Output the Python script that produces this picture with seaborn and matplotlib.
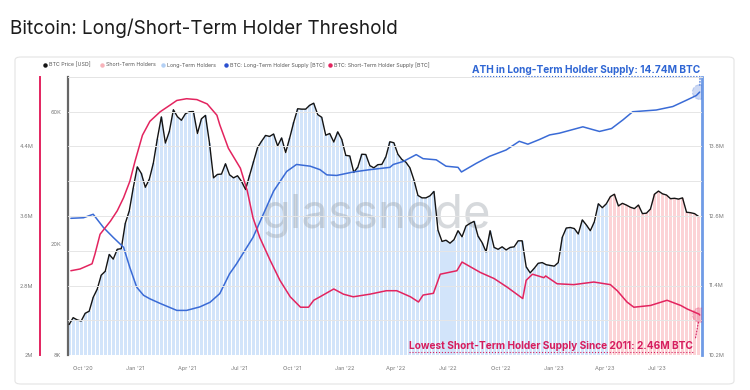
import matplotlib
matplotlib.use('Agg')
import matplotlib.pyplot as plt
from matplotlib.patches import FancyBboxPatch
from matplotlib.lines import Line2D
from matplotlib.text import Text
from matplotlib.ticker import FixedLocator, NullLocator
import pandas as pd
import seaborn as sns

# 样式
sns.set_style("white")
plt.rcParams['font.family'] = ['Inter', 'DejaVu Sans']

# ---- 数据 ----
# BTC 周价格 (USD)，从 2020-09-07 起每周一个值
btc_price = [
    # 2020
    10300, 10900, 10700, 10600, 11300, 11500, 12900, 13800, 15500, 16000,
    18400, 17700, 19200, 19300, 23800, 26400, 32000,
    # 2021
    38000, 36000, 32100, 34300, 39200, 48000, 57500, 46300, 51000, 61000,
    57600, 55900, 59000, 60000, 60100, 50100, 56600, 58200, 46400, 34700,
    35700, 35800, 39000, 35600, 34700, 35300, 33700, 31500, 35400, 39900,
    44600, 47000, 49300, 48900, 49900, 45200, 48300, 42800, 48200, 54900,
    61500, 61300, 61300, 63300, 64400, 58600, 57300, 49400, 50100, 46700,
    50800, 47700,
    # 2022
    41800, 41600, 36300, 37900, 42200, 42100, 38400, 37700, 38700, 38800,
    41300, 46800, 46400, 42200, 40400, 39500, 37700, 34100, 30000, 29400,
    29400, 29900, 31000, 22500, 20500, 20700, 20200, 20800, 22400, 21300,
    23300, 23800, 24200, 21400, 20300, 18800, 22400, 19500, 19200, 19600,
    19100, 19500, 19600, 20600, 20600, 16600, 15800, 16400, 17100, 17200,
    16900, 16800,
    # 2023
    16700, 17200, 21200, 22900, 23000, 22800, 21800, 24500, 23500, 22400,
    24100, 28000, 27100, 28000, 29700, 30300, 27500, 28100, 27700, 27200,
    26900, 27700, 25800, 25900, 26800, 30300, 31100, 30400, 30100, 29200,
    29300, 29100, 29400, 26100, 26000, 25800, 25200,
]
price_start = '2020-09-07'

# 长期持有者供应量 (百万 BTC)
lth_dates = [
    '2020-09-10', '2020-10-02', '2020-10-19', '2020-11-06', '2020-11-23',
    '2020-12-11', '2020-12-22', '2021-01-03', '2021-01-15', '2021-01-26',
    '2021-02-13', '2021-03-14', '2021-03-31', '2021-04-23', '2021-05-11',
    '2021-05-28', '2021-06-14', '2021-06-26', '2021-07-25', '2021-08-12',
    '2021-08-30', '2021-09-22', '2021-10-09', '2021-11-02', '2021-11-19',
    '2021-12-01', '2021-12-18', '2022-01-16', '2022-02-14', '2022-03-21',
    '2022-03-27', '2022-04-13', '2022-05-06', '2022-05-18', '2022-06-10',
    '2022-06-27', '2022-07-18', '2022-07-24', '2022-08-19', '2022-09-11',
    '2022-10-10', '2022-11-02', '2022-11-17', '2022-12-07', '2022-12-25',
    '2023-01-11', '2023-02-21', '2023-03-11', '2023-03-22', '2023-04-12',
    '2023-05-02', '2023-05-19', '2023-06-29', '2023-07-28', '2023-08-21',
    '2023-09-07', '2023-09-13',
]
lth_supply = [
    12.56, 12.57, 12.63, 12.40, 12.23,
    12.06, 11.71, 11.37, 11.23, 11.17,
    11.09, 10.97, 10.97, 11.03, 11.11,
    11.26, 11.60, 11.77, 12.23, 12.63,
    13.03, 13.37, 13.49, 13.46, 13.40,
    13.31, 13.30, 13.36, 13.40, 13.44,
    13.49, 13.54, 13.66, 13.59, 13.57,
    13.46, 13.44, 13.36, 13.51, 13.63,
    13.74, 13.89, 13.84, 13.92, 14.00,
    14.03, 14.14, 14.09, 14.06, 14.11,
    14.26, 14.40, 14.43, 14.49, 14.60,
    14.68, 14.74,
]

# 短期持有者供应量 (百万 BTC)
sth_dates = [
    '2020-09-10', '2020-09-26', '2020-10-17', '2020-10-22', '2020-10-31',
    '2020-11-18', '2020-11-30', '2020-12-11', '2020-12-22', '2020-12-31',
    '2021-01-13', '2021-01-26', '2021-02-13', '2021-03-03', '2021-03-14',
    '2021-03-31', '2021-04-18', '2021-05-06', '2021-05-23', '2021-05-28',
    '2021-06-12', '2021-07-03', '2021-07-15', '2021-07-25', '2021-08-06',
    '2021-08-24', '2021-09-10', '2021-09-28', '2021-10-16', '2021-10-30',
    '2021-11-08', '2021-11-19', '2021-12-13', '2021-12-30', '2022-01-16',
    '2022-02-14', '2022-03-15', '2022-04-02', '2022-04-26', '2022-05-10',
    '2022-05-18', '2022-06-05', '2022-06-17', '2022-07-16', '2022-07-25',
    '2022-08-26', '2022-09-19', '2022-10-12', '2022-11-08', '2022-11-14',
    '2022-11-25', '2022-12-15', '2022-12-18', '2023-01-07', '2023-02-05',
    '2023-03-12', '2023-04-10', '2023-04-22', '2023-05-09', '2023-05-21',
    '2023-06-19', '2023-07-18', '2023-08-11', '2023-08-22', '2023-09-12',
    '2023-09-13',
]
sth_supply = [
    2.97, 2.99, 3.05, 3.16, 3.39,
    3.54, 3.66, 3.81, 4.00, 4.23,
    4.53, 4.69, 4.80, 4.88, 4.93,
    4.95, 4.94, 4.89, 4.76, 4.65,
    4.38, 4.15, 3.89, 3.58, 3.35,
    3.09, 2.86, 2.67, 2.55, 2.55,
    2.63, 2.67, 2.76, 2.70, 2.67,
    2.70, 2.74, 2.74, 2.67, 2.61,
    2.69, 2.71, 2.93, 2.97, 3.07,
    2.95, 2.88, 2.78, 2.65, 2.86,
    2.93, 2.89, 2.91, 2.82, 2.81,
    2.84, 2.81, 2.74, 2.61, 2.55,
    2.57, 2.63, 2.57, 2.53, 2.47,
    2.46,
]

# 价格阈值切换日期（蓝色 -> 粉色）
regime_switch = '2023-04-08'

x_ticks = ['2020-10-01', '2021-01-01', '2021-04-01', '2021-07-01', '2021-10-01',
           '2022-01-01', '2022-04-01', '2022-07-01', '2022-10-01', '2023-01-01',
           '2023-04-01', '2023-07-01']
x_labels = ["Oct '20", "Jan '21", "Apr '21", "Jul '21", "Oct '21", "Jan '22",
            "Apr '22", "Jul '22", "Oct '22", "Jan '23", "Apr '23", "Jul '23"]

price_ticks = [8000, 20000, 60000]
price_labels = ['8K', '20K', '60K']
lth_ticks = [10.2, 11.4, 12.6, 13.8]
sth_ticks = [2.0, 2.8, 3.6, 4.4]
sth_minor = [2.4, 3.2, 4.0, 4.8]

price_df = pd.DataFrame({
    'date': pd.date_range(price_start, periods=len(btc_price), freq='7D'),
    'price': btc_price,
})
lth_df = pd.DataFrame({'date': pd.to_datetime(lth_dates), 'lth': lth_supply})
sth_df = pd.DataFrame({'date': pd.to_datetime(sth_dates), 'sth': sth_supply})

# ---- 颜色 ----
C_PRICE = '#141414'
C_LTH = '#3a6bd6'
C_STH = '#e3245f'
C_FILL_LTH = '#d2e4fa'
C_FILL_STH = '#fcd3d6'
C_TICK = '#7a7a7a'

W, H = 750, 390


def fx(px):
    return px / W


def fy(py):
    return 1 - py / H


fig = plt.figure(figsize=(7.5, 3.9), dpi=100)
fig.patch.set_facecolor('white')

# 面板边框
fig.add_artist(FancyBboxPatch((fx(15), fy(384)), fx(734) - fx(15), fy(57) - fy(384),
                              boxstyle='round,pad=0,rounding_size=0.008',
                              transform=fig.transFigure, fc='none', ec='#e4e4e4', lw=0.8))

# 标题
fig.text(fx(10), fy(28), 'Bitcoin: Long/Short-Term Holder Threshold',
         fontsize=13.6, color='#1c1c1c', va='center', ha='left')

# ---- 主坐标轴：价格 (对数) ----
ax = fig.add_axes([fx(68), fy(355), fx(702) - fx(68), (355 - 77) / H])
ax.set_yscale('log')
ax.set_ylim(8000, 80000)
ax.set_xlim(pd.Timestamp('2020-09-05'), pd.Timestamp('2023-09-17'))

switch = pd.Timestamp(regime_switch)
lth_part = price_df[price_df['date'] < switch]
sth_part = price_df[price_df['date'] >= switch]
ax.bar(lth_part['date'], lth_part['price'] - 8000, bottom=8000, width=5.3,
       color=C_FILL_LTH, linewidth=0, zorder=1)
ax.bar(sth_part['date'], sth_part['price'] - 8000, bottom=8000, width=5.3,
       color=C_FILL_STH, linewidth=0, zorder=1)

ax.text(0.486, 0.50, 'glassnode', transform=ax.transAxes, fontsize=34,
        color='#9aa1a9', alpha=0.40, ha='center', va='center', zorder=2)

sns.lineplot(data=price_df, x='date', y='price', ax=ax, color=C_PRICE,
             linewidth=1.0, zorder=3)

ax.yaxis.set_major_locator(FixedLocator(price_ticks))
ax.yaxis.set_minor_locator(NullLocator())
ax.set_yticklabels(price_labels)
ax.set_xticks(pd.to_datetime(x_ticks))
ax.set_xticklabels(x_labels)
ax.tick_params(axis='both', labelsize=4, colors=C_TICK, length=0)
ax.tick_params(axis='y', pad=5)
ax.tick_params(axis='x', pad=8)
ax.set_xlabel('')
ax.set_ylabel('')
for s in ['top', 'right', 'bottom']:
    ax.spines[s].set_visible(False)
ax.spines['left'].set_color('#666666')
ax.spines['left'].set_linewidth(1.6)

# ---- 右轴：长期持有者供应量 ----
ax2 = ax.twinx()
sns.lineplot(data=lth_df, x='date', y='lth', ax=ax2, color=C_LTH, linewidth=1.1)
ax2.set_ylim(10.2, 15.0)
ax2.yaxis.set_major_locator(FixedLocator(lth_ticks))
ax2.set_yticklabels([f'{v}M' for v in lth_ticks])
ax2.tick_params(axis='y', labelsize=4, colors=C_TICK, length=0, pad=5)
ax2.set_ylabel('')
ax2.set_xlabel('')
for s in ['top', 'left', 'bottom']:
    ax2.spines[s].set_visible(False)
ax2.spines['right'].set_color('#6f9be6')
ax2.spines['right'].set_linewidth(2.0)

# ---- 左外轴：短期持有者供应量 ----
ax3 = ax.twinx()
ax3.yaxis.tick_left()
sns.lineplot(data=sth_df, x='date', y='sth', ax=ax3, color=C_STH, linewidth=1.1)
ax3.set_ylim(2.0, 5.2)
ax3.yaxis.set_major_locator(FixedLocator(sth_ticks))
ax3.yaxis.set_minor_locator(FixedLocator(sth_minor))
ax3.set_yticklabels(['2M', '2.8M', '3.6M', '4.4M'])
ax3.tick_params(axis='y', which='both', labelsize=4, colors=C_TICK, length=0, pad=5)
ax3.grid(axis='y', which='both', color='#e6e6e6', linewidth=0.7)
ax3.set_axisbelow(True)
ax3.set_ylabel('')
ax3.set_xlabel('')
ax3.spines['left'].set_position(('outward', 20))
ax3.spines['left'].set_color(C_STH)
ax3.spines['left'].set_linewidth(1.4)
ax3.spines['top'].set_color('#e4e4e4')
ax3.spines['top'].set_linewidth(0.7)
for s in ['right', 'bottom']:
    ax3.spines[s].set_visible(False)

# ---- 末端标注 ----
lth_last = lth_df.iloc[-1]
sth_last = sth_df.iloc[-1]
ax2.scatter([lth_last['date']], [lth_last['lth']], s=110, color=C_LTH, alpha=0.25,
            edgecolors=C_LTH, linestyles='--', linewidths=0.8, zorder=5)
ax3.scatter([sth_last['date']], [sth_last['sth']], s=110, color=C_STH, alpha=0.25,
            edgecolors=C_STH, linestyles='--', linewidths=0.8, zorder=5)

t_ath = ax2.annotate('ATH in Long-Term Holder Supply: 14.74M BTC',
                     xy=(lth_last['date'], lth_last['lth']), xytext=(0.997, 1.025),
                     textcoords='axes fraction', ha='right', va='center',
                     fontsize=7.25, fontweight='bold', color='#2f66d4',
                     arrowprops=dict(arrowstyle='-', linestyle=':', color='#2f66d4',
                                     lw=0.8, relpos=(1, 0), shrinkA=0, shrinkB=4))
t_low = ax3.annotate('Lowest Short-Term Holder Supply Since 2011: 2.46M BTC',
                     xy=(sth_last['date'], sth_last['sth']), xytext=(0.986, 0.032),
                     textcoords='axes fraction', ha='right', va='center',
                     fontsize=7.3, fontweight='bold', color='#d61d5e',
                     arrowprops=dict(arrowstyle='-', linestyle=':', color='#d61d5e',
                                     lw=0.8, relpos=(1, 0), shrinkA=0, shrinkB=4))

# 虚线下划线（只取文字本身的范围）
fig.canvas.draw()
renderer = fig.canvas.get_renderer()
for t, col in [(t_ath, '#2f66d4'), (t_low, '#d61d5e')]:
    bb = Text.get_window_extent(t, renderer)
    y_line = bb.y0 - 1.0
    fig.add_artist(Line2D([bb.x0 / W, bb.x1 / W], [y_line / H, y_line / H],
                          transform=fig.transFigure, color=col, lw=0.8, ls=':'))

# ---- 图例 ----
legend_items = [
    ('BTC Price [USD]', C_PRICE, 45),
    ('Short-Term Holders', '#f7b3ba', 102),
    ('Long-Term Holders', '#b3d0f5', 163),
    ('BTC: Long-Term Holder Supply [BTC]', '#2a4fcf', 226),
    ('BTC: Short-Term Holder Supply [BTC]', C_STH, 330),
]
for label, col, px in legend_items:
    fig.add_artist(Line2D([fx(px)], [fy(65)], marker='o', markersize=2.2,
                          color=col, transform=fig.transFigure))
    fig.text(fx(px + 4), fy(65), label, fontsize=3.8, color='#555555',
             va='center', ha='left')

fig.savefig('out.png', dpi=100)
